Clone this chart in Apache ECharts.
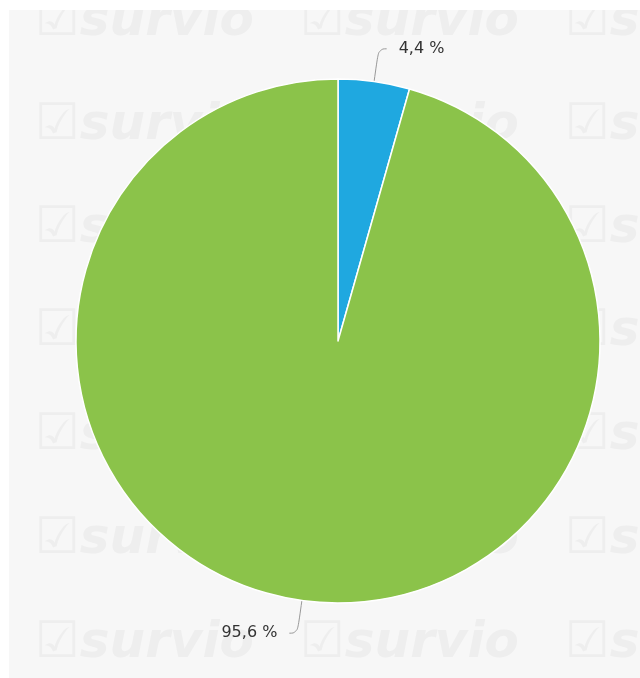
<!DOCTYPE html>
<html>
<head>
<meta charset="utf-8">
<script src="https://cdn.jsdelivr.net/npm/echarts@6/dist/echarts.min.js"></script>
<style>
html,body{margin:0;padding:0;background:#fff;}
#main{width:640px;height:678px;}
</style>
</head>
<body>
<div id="main"></div>
<script>
const categories = ['Ano', 'Ne'];
const values = [4.4, 95.6];
const colors = ['#1fa8e0', '#8bc34a'];

const chart = echarts.init(document.getElementById('main'));

// watermark grid
const wm = [];
const rows = [22, 126, 229, 332, 436, 540, 644];
const cols = [35, 300, 565];
rows.forEach(function (y) {
  cols.forEach(function (x) {
    wm.push({
      type: 'text', z: 0, silent: true,
      x: x, y: y,
      style: {
        text: '☑survio', fill: '#eeeeee',
        font: 'italic bold 50px "DejaVu Sans"',
        verticalAlign: 'middle', align: 'left'
      }
    });
  });
});

chart.setOption({
  backgroundColor: '#ffffff',
  animation: false,
  graphic: [
    { type: 'rect', z: -1, silent: true, shape: { x: 9, y: 10, width: 631, height: 668 }, style: { fill: '#f7f7f7' } }
  ].concat(wm).concat([
    { type: 'rect', z: 1, silent: true, shape: { x: 0, y: 0, width: 640, height: 10 }, style: { fill: '#ffffff' } },
    { type: 'rect', z: 1, silent: true, shape: { x: 0, y: 0, width: 9, height: 678 }, style: { fill: '#ffffff' } }
  ]),
  series: [{
    type: 'pie',
    z: 5,
    center: [338, 341],
    radius: 262,
    startAngle: 90,
    clockwise: true,
    color: colors,
    data: categories.map(function (c, i) { return { name: c, value: values[i] }; }),
    itemStyle: { borderColor: '#ffffff', borderWidth: 1.5 },
    label: {
      show: true,
      formatter: function (p) { return String(p.value).replace('.', ',') + ' %'; },
      fontSize: 16,
      color: '#333333',
      fontFamily: '"DejaVu Sans", sans-serif',
      distanceToLabelLine: 12
    },
    labelLine: {
      show: true,
      length: 33,
      length2: 8,
      smooth: 0.5,
      lineStyle: { color: '#999999', width: 1 }
    }
  }]
});
</script>
</body>
</html>
